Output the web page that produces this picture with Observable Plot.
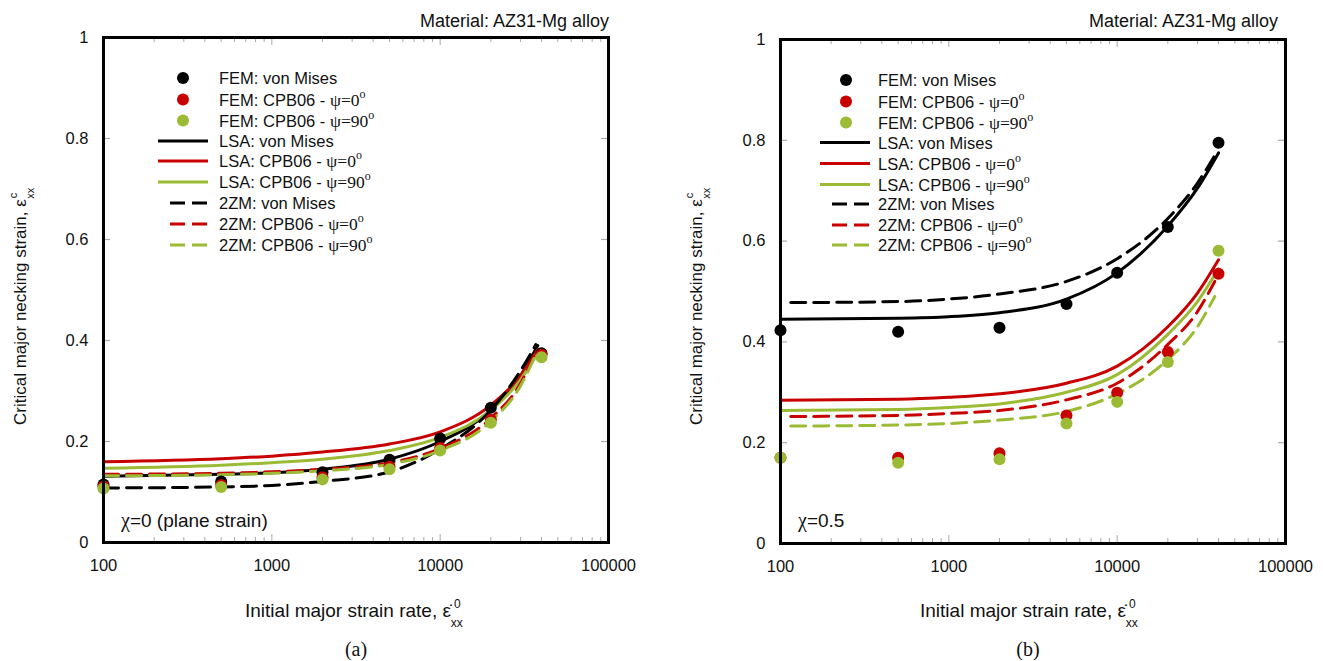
<!DOCTYPE html>
<html><head><meta charset="utf-8">
<script src="https://cdn.jsdelivr.net/npm/d3@7"></script>
<script src="https://cdn.jsdelivr.net/npm/@observablehq/plot@0.6"></script>
<style>
body{margin:0;background:#fff;}
#wrap{display:flex;width:1323px;height:661px;}
svg{display:block;overflow:visible}
</style></head><body><div id="wrap"></div>
<script>
// ---------- data ----------
const xTicks = [100, 1000, 10000, 100000];
const xMinorTicks = [200,300,400,500,600,700,800,900,2000,3000,4000,5000,6000,7000,8000,9000,20000,30000,40000,50000,60000,70000,80000,90000];
const yTicks = [0, 0.2, 0.4, 0.6, 0.8, 1];

const seriesColors = ["#000000", "#c80000", "#9bbb34"];   // von Mises, psi=0, psi=90

const xFEM = [100, 500, 2000, 5000, 10000, 20000, 40000];

// panel (a) chi = 0
const femVM_a  = [0.115, 0.121, 0.139, 0.164, 0.206, 0.267, 0.375];
const femP0_a  = [0.111, 0.114, 0.129, 0.150, 0.187, 0.243, 0.372];
const femP90_a = [0.107, 0.110, 0.125, 0.145, 0.182, 0.237, 0.367];
const xLSA_a = [100, 500, 1000, 2000, 5000, 10000, 20000, 30000, 38000];
const lsaVM_a  = [0.131, 0.135, 0.138, 0.145, 0.165, 0.200, 0.262, 0.330, 0.390];
const lsaP0_a  = [0.160, 0.166, 0.171, 0.179, 0.195, 0.219, 0.272, 0.330, 0.382];
const lsaP90_a = [0.147, 0.153, 0.158, 0.165, 0.182, 0.208, 0.262, 0.322, 0.376];
const x2ZM_a = [100, 500, 1000, 2000, 5000, 10000, 20000, 30000, 37000];
const zmVM_a  = [0.108, 0.110, 0.113, 0.121, 0.140, 0.185, 0.262, 0.340, 0.392];
const zmP0_a  = [0.135, 0.137, 0.140, 0.145, 0.158, 0.186, 0.246, 0.315, 0.378];
const zmP90_a = [0.132, 0.134, 0.137, 0.142, 0.155, 0.182, 0.240, 0.310, 0.372];

// panel (b) chi = 0.5
const femVM_b  = [0.423, 0.420, 0.428, 0.475, 0.537, 0.628, 0.795];
const femP0_b  = [0.170, 0.170, 0.179, 0.254, 0.299, 0.380, 0.535];
const femP90_b = [0.170, 0.160, 0.167, 0.238, 0.281, 0.360, 0.581];
const xLSA_b = [100, 500, 1000, 2000, 5000, 10000, 20000, 30000, 40000];
const lsaVM_b  = [0.445, 0.447, 0.450, 0.458, 0.485, 0.537, 0.630, 0.705, 0.775];
const lsaP0_b  = [0.284, 0.286, 0.290, 0.297, 0.318, 0.352, 0.430, 0.497, 0.563];
const lsaP90_b = [0.264, 0.266, 0.270, 0.277, 0.300, 0.335, 0.415, 0.480, 0.545];
const x2ZM_b = [115, 500, 1000, 2000, 5000, 10000, 20000, 30000, 38000];
const zmVM_b  = [0.478, 0.480, 0.485, 0.495, 0.520, 0.565, 0.645, 0.715, 0.770];
const zmP0_b  = [0.252, 0.254, 0.258, 0.264, 0.285, 0.318, 0.395, 0.460, 0.520];
const zmP90_b = [0.233, 0.235, 0.238, 0.245, 0.262, 0.297, 0.365, 0.430, 0.490];

// legend / texts
const legendMethods = ["FEM","FEM","FEM","LSA","LSA","LSA","2ZM","2ZM","2ZM"];
const legendModels  = ["von Mises","CPB06","CPB06","von Mises","CPB06","CPB06","von Mises","CPB06","CPB06"];
const legendAngles  = [null,"0","90",null,"0","90",null,"0","90"];
const materialText = "Material: AZ31-Mg alloy";
const yLabelText = "Critical major necking strain, ε";
const xLabelText = "Initial major strain rate, ";

// ---------- drawing ----------
const SANS = "'Liberation Sans', Arial, sans-serif";
const SERIF = "'Liberation Serif', 'Times New Roman', serif";

function rows(xs, ys) { return xs.map((x, i) => ({x, y: ys[i]})); }

function panel(cfg) {
  const W = cfg.width, H = 661;
  const pw = W - cfg.ml - cfg.mr, ph = H - cfg.mt - cfg.mb;
  const lineMarks = [];
  cfg.lsa.forEach((ys, i) => lineMarks.push(Plot.line(rows(cfg.xLSA, ys), {x: "x", y: "y", stroke: seriesColors[i], strokeWidth: 3, curve: "monotone-x"})));
  cfg.zm.forEach((ys, i) => lineMarks.push(Plot.line(rows(cfg.x2ZM, ys), {x: "x", y: "y", stroke: seriesColors[i], strokeWidth: 3, strokeDasharray: "15,8", curve: "monotone-x"})));
  const dotMarks = cfg.fem.map((ys, i) => Plot.dot(rows(xFEM, ys), {x: "x", y: "y", r: 6, fill: seriesColors[i], stroke: "none"}));

  const svg = Plot.plot({
    width: W, height: H,
    marginLeft: cfg.ml, marginRight: cfg.mr, marginTop: cfg.mt, marginBottom: cfg.mb,
    style: {fontFamily: SANS, fontSize: "16.5px", background: "white", color: "#111"},
    x: {type: "log", domain: [100, 100000], ticks: xTicks, tickFormat: d => String(d), tickSize: 0, tickPadding: 17, label: null},
    y: {domain: [0, 1], ticks: yTicks, tickFormat: d => (d === 0 ? "0" : d === 1 ? "1" : d.toFixed(1)), tickSize: 0, tickPadding: 15, label: null},
    marks: [
      Plot.tickY(yTicks, {y: d => d, insetRight: pw - 7, stroke: "#aaa", strokeWidth: 1.2}),
      Plot.tickY(yTicks, {y: d => d, insetLeft: pw - 7, stroke: "#aaa", strokeWidth: 1.2}),
      Plot.tickX(xMinorTicks, {x: d => d, insetTop: ph - 5, stroke: "#aaa", strokeWidth: 1}),
      Plot.tickX(xMinorTicks, {x: d => d, insetBottom: ph - 5, stroke: "#aaa", strokeWidth: 1}),
      Plot.tickX(xTicks, {x: d => d, insetTop: ph - 8, stroke: "#aaa", strokeWidth: 1}),
      Plot.tickX(xTicks, {x: d => d, insetBottom: ph - 8, stroke: "#aaa", strokeWidth: 1}),
      ...lineMarks,
      ...dotMarks,
      Plot.frame({stroke: "black", strokeWidth: 3})
    ]
  });

  const s = d3.select(svg);
  const g = s.append("g").attr("font-family", SANS).attr("fill", "#111")
    .attr("text-anchor", "start").style("white-space", "pre");

  // legend
  const L = cfg.legend;
  legendMethods.forEach((m, i) => {
    const y = L.rows[i];
    const color = seriesColors[i % 3];
    if (m === "FEM") {
      g.append("circle").attr("cx", L.dotX).attr("cy", y).attr("r", 6).attr("fill", color);
    } else {
      g.append("line").attr("x1", m === "LSA" ? L.lineX1 : L.dashX1).attr("x2", L.lineX2)
        .attr("y1", y).attr("y2", y).attr("stroke", color).attr("stroke-width", 3)
        .attr("stroke-dasharray", m === "LSA" ? null : "15,7");
    }
    const t = g.append("text").attr("x", L.textX).attr("y", y + 6).attr("font-size", 16.5).attr("text-anchor", "start");
    if (legendAngles[i] === null) {
      t.append("tspan").text(m + ": " + legendModels[i]);
    } else {
      t.append("tspan").text(m + ": " + legendModels[i] + " - ");
      t.append("tspan").attr("font-family", SERIF).attr("font-size", 17.5).text("ψ=" + legendAngles[i]);
      t.append("tspan").attr("font-family", SERIF).attr("font-size", 12).attr("dy", -8).text("o");
    }
  });

  // material
  g.append("text").attr("x", cfg.matX).attr("y", 27).attr("text-anchor", "end").attr("font-size", 18).text(materialText);

  // chi annotation
  const c = g.append("text").attr("x", cfg.chiX).attr("y", 527).attr("font-size", 19).attr("text-anchor", "start");
  c.append("tspan").attr("font-family", SERIF).attr("font-size", 20).text("χ");
  c.append("tspan").text(cfg.chiText);

  // y label
  const yl = g.append("text").attr("transform", `translate(${cfg.ylX},425) rotate(-90)`).attr("font-size", 17).attr("text-anchor", "start");
  yl.append("tspan").text(yLabelText);
  yl.append("tspan").attr("font-size", 11).attr("dx", 1).attr("dy", -9).text("c");
  yl.append("tspan").attr("font-size", 11).attr("dx", -6).attr("dy", 17).text("xx");

  // x label
  const xl = g.append("text").attr("x", cfg.xlX).attr("y", 617).attr("font-size", 19).attr("text-anchor", "start");
  xl.append("tspan").text(xLabelText + "ε\u0307");
  xl.append("tspan").attr("font-size", 12).attr("dx", 3).attr("dy", -9).text("0");
  xl.append("tspan").attr("font-size", 12).attr("dx", -10).attr("dy", 19).text("xx");

  // caption
  g.append("text").attr("x", cfg.capX).attr("y", 656).attr("text-anchor", "middle")
    .attr("font-family", SERIF).attr("font-size", 20).text(cfg.caption);

  return svg;
}

const wrap = document.getElementById("wrap");
wrap.appendChild(panel({
  width: 661, ml: 103, mr: 53, mt: 37, mb: 119,
  fem: [femVM_a, femP0_a, femP90_a], xLSA: xLSA_a, lsa: [lsaVM_a, lsaP0_a, lsaP90_a], x2ZM: x2ZM_a, zm: [zmVM_a, zmP0_a, zmP90_a],
  legend: {rows: [78, 99.5, 120.5, 141, 161, 182, 203, 224, 245], dotX: 183, textX: 219, lineX1: 158, lineX2: 208, dashX1: 170},
  matX: 609, chiX: 121, chiText: "=0 (plane strain)", ylX: 26, xlX: 245, capX: 356, caption: "(a)"
}));
wrap.appendChild(panel({
  width: 662, ml: 119, mr: 38, mt: 39, mb: 118,
  fem: [femVM_b, femP0_b, femP90_b], xLSA: xLSA_b, lsa: [lsaVM_b, lsaP0_b, lsaP90_b], x2ZM: x2ZM_b, zm: [zmVM_b, zmP0_b, zmP90_b],
  legend: {rows: [80, 101.5, 122.5, 142.5, 163.5, 184.5, 204, 225, 245], dotX: 185, textX: 217, lineX1: 159, lineX2: 209, dashX1: 171},
  matX: 617, chiX: 137, chiText: "=0.5", ylX: 41, xlX: 259, capX: 367, caption: "(b)"
}));
</script></body></html>
